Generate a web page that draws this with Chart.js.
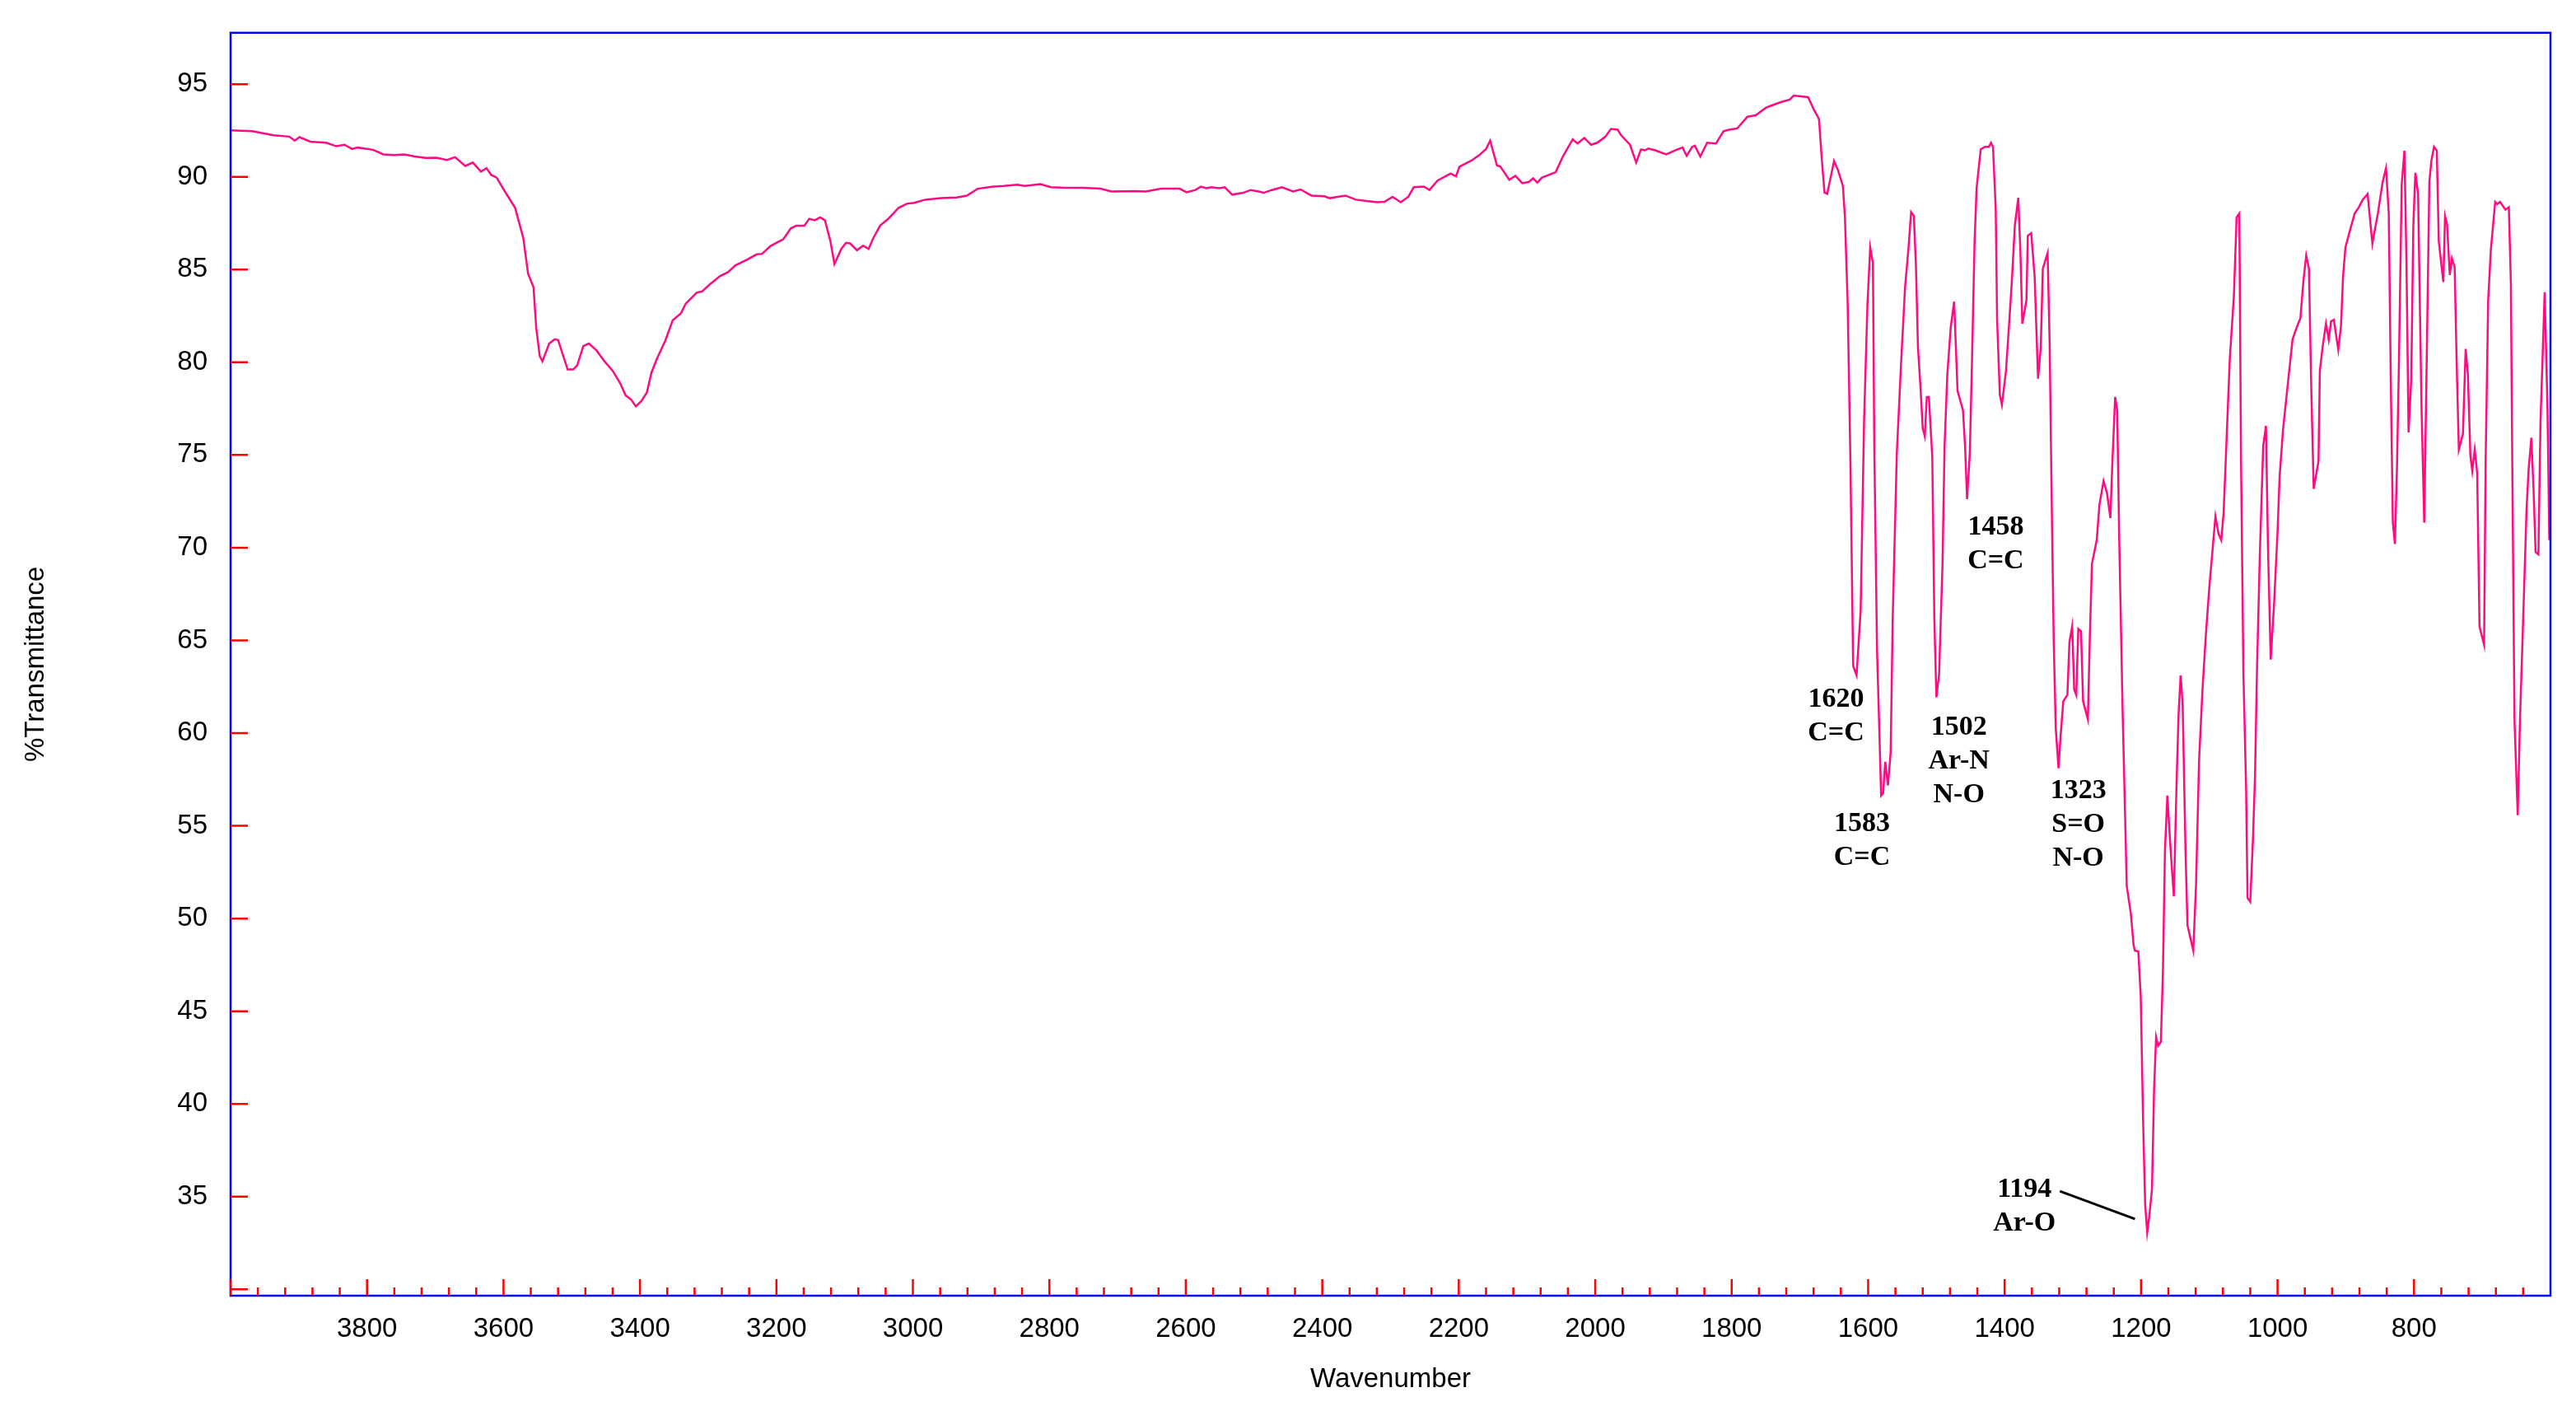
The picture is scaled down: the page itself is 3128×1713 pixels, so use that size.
<!DOCTYPE html>
<html>
<head>
<meta charset="utf-8">
<title>IR spectrum</title>
<script src="https://cdn.jsdelivr.net/npm/chart.js@4.4.1/dist/chart.umd.min.js"></script>
<style>
  body { margin: 0; background: #fff; }
  #wrap { width: 3128px; height: 1713px; }
</style>
</head>
<body>
<div id="wrap"><canvas id="irChart"></canvas></div>
<script>
// wavenumber (cm-1) from left to right
const wavenumbers = [
  4000, 3968, 3937, 3914, 3906, 3899, 3883, 3860, 3845, 3833, 3822, 3814, 3791, 3776, 3760, 3745,
  3730, 3714, 3698, 3683, 3671, 3656, 3645, 3633, 3625, 3618, 3610, 3598, 3583, 3571, 3564, 3556,
  3552, 3547, 3543, 3533, 3525, 3520, 3506, 3498, 3492, 3483, 3475, 3464, 3452, 3440, 3429, 3421,
  3413, 3406, 3398, 3390, 3383, 3375, 3363, 3352, 3340, 3333, 3317, 3309, 3298, 3283, 3271, 3260,
  3244, 3229, 3221, 3209, 3198, 3190, 3179, 3171, 3159, 3152, 3144, 3136, 3129, 3121, 3115, 3105,
  3098, 3092, 3082, 3073, 3065, 3058, 3048, 3036, 3021, 3009, 2998, 2982, 2959, 2936, 2921, 2905,
  2882, 2867, 2847, 2836, 2813, 2798, 2782, 2751, 2725, 2709, 2674, 2659, 2636, 2609, 2599, 2586,
  2578, 2570, 2563, 2551, 2543, 2532, 2516, 2505, 2493, 2486, 2474, 2459, 2443, 2432, 2416, 2397,
  2389, 2378, 2366, 2351, 2335, 2320, 2309, 2297, 2285, 2274, 2266, 2251, 2243, 2231, 2212, 2204,
  2199, 2181, 2170, 2160, 2154, 2144, 2139, 2126, 2117, 2107, 2097, 2091, 2085, 2078, 2058, 2047,
  2033, 2026, 2016, 2006, 1997, 1985, 1977, 1967, 1962, 1949, 1940, 1933, 1927, 1922, 1912, 1896,
  1881, 1872, 1866, 1858, 1854, 1846, 1836, 1823, 1812, 1804, 1792, 1777, 1765, 1750, 1743, 1727,
  1715, 1709, 1688, 1680, 1672, 1668, 1664, 1660, 1650, 1644, 1637, 1634, 1630, 1626, 1622, 1617,
  1611, 1606, 1601, 1597, 1593, 1591, 1587, 1584, 1581, 1578, 1575, 1571, 1567, 1564, 1558, 1552,
  1546, 1541, 1537, 1533, 1530, 1527, 1523, 1520, 1517, 1514, 1511, 1506, 1503, 1500, 1496, 1491,
  1488, 1484, 1479, 1474, 1469, 1461, 1458, 1455, 1451, 1448, 1444, 1441, 1435, 1429, 1423, 1420,
  1417, 1413, 1411, 1407, 1404, 1398, 1393, 1389, 1385, 1380, 1377, 1374, 1368, 1366, 1361, 1356,
  1351, 1347, 1344, 1337, 1334, 1331, 1328, 1325, 1321, 1318, 1314, 1308, 1305, 1301, 1298, 1295,
  1292, 1288, 1285, 1278, 1275, 1272, 1265, 1261, 1255, 1250, 1245, 1242, 1238, 1235, 1232, 1227,
  1221, 1215, 1211, 1209, 1204, 1200.5, 1197, 1194, 1191, 1188, 1184, 1181, 1178, 1175, 1171, 1168,
  1165, 1161.5, 1157, 1152, 1148, 1145, 1142, 1139, 1135, 1132, 1128, 1123.5, 1119.5, 1115, 1110, 1105,
  1100, 1095, 1091, 1086.5, 1082.5, 1079, 1076, 1070, 1064, 1060, 1056, 1053.5, 1050, 1046, 1044, 1040,
  1036, 1033, 1030, 1026, 1021, 1017, 1014, 1010, 1005, 1000, 997, 992, 986, 978, 972, 966.5,
  962, 958, 954, 950.5, 947, 940, 938, 934, 929, 925, 921.5, 917.5, 911, 907, 904, 900.5,
  895, 887, 881, 875, 868, 861, 853, 846, 841, 837, 834, 831, 828, 825, 822, 818,
  814, 811, 808, 804, 801, 798, 794, 789, 785, 781, 777.5, 774.6, 770.6, 766.6, 763.7, 757,
  754.5, 751.6, 747.6, 744.4, 740.4, 737.6, 734.3, 728.3, 724.3, 721, 717.4, 714.6, 711, 707.4, 704, 697.3,
  695, 691.3, 687.3, 681, 678, 674, 666, 661, 658, 656, 652.7, 648, 644.7, 640, 635, 632,
  628, 624.6, 621.8, 617.7, 614.6, 608.5, 604.4, 601.7
];

// %Transmittance at each wavenumber
const transmittance = [
  92.51, 92.46, 92.24, 92.17, 91.95, 92.14, 91.90, 91.84, 91.65, 91.73, 91.50, 91.58, 91.46, 91.21, 91.17, 91.21,
  91.10, 91.02, 91.03, 90.91, 91.06, 90.59, 90.77, 90.28, 90.47, 90.10, 89.96, 89.21, 88.33, 86.70, 84.78, 84.04,
  81.83, 80.35, 80.05, 81.01, 81.24, 81.20, 79.61, 79.61, 79.83, 80.87, 81.01, 80.65, 80.05, 79.54, 78.87, 78.21,
  77.99, 77.62, 77.91, 78.36, 79.46, 80.20, 81.16, 82.27, 82.64, 83.16, 83.75, 83.82, 84.19, 84.64, 84.86, 85.23,
  85.52, 85.82, 85.85, 86.26, 86.48, 86.63, 87.22, 87.37, 87.37, 87.74, 87.66, 87.81, 87.66, 86.55, 85.30, 86.11,
  86.44, 86.41, 86.04, 86.29, 86.11, 86.70, 87.37, 87.74, 88.33, 88.55, 88.60, 88.77, 88.85, 88.89, 88.99, 89.36,
  89.48, 89.51, 89.58, 89.51, 89.61, 89.44, 89.42, 89.41, 89.36, 89.21, 89.23, 89.21, 89.36, 89.36, 89.17, 89.29,
  89.47, 89.39, 89.44, 89.39, 89.44, 89.04, 89.14, 89.29, 89.21, 89.14, 89.29, 89.44, 89.21, 89.32, 88.99, 88.95,
  88.85, 88.92, 88.99, 88.77, 88.70, 88.63, 88.65, 88.92, 88.63, 88.92, 89.44, 89.48, 89.29, 89.80, 90.18, 90.03,
  90.55, 90.89, 91.17, 91.50, 91.95, 90.62, 90.55, 89.84, 90.06, 89.66, 89.73, 89.92, 89.69, 89.96, 90.25, 91.13,
  92.02, 91.80, 92.10, 91.73, 91.84, 92.17, 92.58, 92.54, 92.24, 91.73, 90.77, 91.48, 91.43, 91.53, 91.43, 91.21,
  91.46, 91.58, 91.13, 91.61, 91.68, 91.10, 91.84, 91.80, 92.46, 92.54, 92.61, 93.24, 93.32, 93.72, 93.83, 94.04,
  94.17, 94.38, 94.30, 93.66, 93.11, 90.99, 89.16, 89.08, 90.86, 90.35, 89.50, 87.81, 83.14, 74.65, 63.63, 63.12,
  66.60, 76.78, 83.14, 86.19, 85.35, 75.50, 64.48, 60.66, 56.63, 56.76, 58.45, 57.18, 58.96, 66.17, 75.08, 79.75,
  83.99, 86.11, 88.10, 87.89, 85.26, 80.81, 78.47, 76.44, 76.01, 78.13, 78.13, 74.87, 66.17, 61.93, 63.21, 69.14,
  75.50, 79.32, 81.87, 83.27, 78.47, 77.41, 75.50, 72.62, 75.08, 79.75, 86.53, 89.41, 91.49, 91.62, 91.62, 91.84,
  91.62, 88.23, 82.29, 78.26, 77.71, 79.53, 82.29, 84.62, 87.38, 88.87, 86.11, 82.08, 83.35, 86.83, 86.96, 84.62,
  79.12, 80.81, 85.05, 85.90, 81.02, 72.54, 64.90, 60.23, 58.11, 59.81, 61.72, 62.06, 64.90, 65.75, 62.36, 62.06,
  65.62, 65.49, 61.72, 60.74, 65.32, 69.14, 70.41, 72.32, 73.59, 72.96, 71.60, 74.65, 78.13, 77.41, 70.41, 61.08,
  51.75, 50.27, 48.57, 48.27, 48.23, 45.81, 39.02, 34.57, 33.08, 33.94, 35.42, 40.72, 43.61, 43.14, 43.35, 47.08,
  53.66, 56.63, 53.87, 51.20, 57.27, 61.08, 63.12, 61.50, 53.87, 49.63, 48.99, 48.27, 51.75, 58.54, 62.35, 65.32,
  67.87, 69.99, 71.68, 70.75, 70.41, 71.90, 74.65, 80.17, 83.56, 87.81, 88.02, 74.65, 63.21, 56.84, 51.11, 50.90,
  54.30, 57.70, 63.63, 69.56, 75.50, 76.57, 69.99, 63.97, 67.02, 70.84, 73.81, 76.35, 78.47, 81.23, 81.87, 82.38,
  84.41, 85.76, 85.05, 78.47, 73.17, 74.65, 79.53, 80.81, 82.08, 81.23, 82.21, 82.29, 80.68, 81.95, 84.62, 86.19,
  86.96, 88.02, 88.35, 88.78, 89.08, 86.40, 88.02, 89.71, 90.48, 88.02, 78.90, 71.35, 70.20, 74.23, 80.17, 89.59,
  91.41, 85.26, 76.22, 79.11, 87.38, 90.22, 89.08, 77.62, 71.35, 81.02, 89.71, 90.86, 91.62, 91.41, 86.53, 84.33,
  87.89, 87.46, 84.71, 85.60, 85.13, 80.17, 75.29, 76.14, 80.72, 79.32, 74.99, 74.14, 75.29, 74.02, 65.75, 64.77,
  74.65, 83.35, 86.11, 88.65, 88.53, 88.65, 88.23, 88.36, 84.20, 74.65, 60.66, 55.57, 60.66, 66.17, 72.11, 74.23,
  75.93, 72.96, 69.77, 69.64, 76.78, 83.78, 77.62, 70.41
];

// peak annotations: text lines, anchor of first line (wavenumber, %T)
const peakText = [['1620', 'C=C'], ['1583', 'C=C'], ['1502', 'Ar-N', 'N-O'], ['1458', 'C=C'], ['1323', 'S=O', 'N-O'], ['1194', 'Ar-O']];
const peakWn = [1647, 1609, 1467, 1413, 1292, 1371];
const peakT = [61.8, 55.1, 60.3, 71.1, 56.9, 35.4];

// leader line for the 1194 peak
const leaderWn = [1319, 1209];
const leaderT = [35.3, 33.8];

const xMin = 600, xMax = 4000;
const yMin = 29.66, yMax = 97.77;

const points = wavenumbers.map((wn, i) => ({ x: wn, y: transmittance[i] }));

// blue frame, red inward ticks and the peak labels
const spectrumDecor = {
  id: 'spectrumDecor',
  afterDraw(chart) {
    const { ctx, chartArea: a } = chart;
    const x = chart.scales.x;
    const y = chart.scales.y;
    ctx.save();

    ctx.strokeStyle = '#0000ff';
    ctx.lineWidth = 2.5;
    ctx.strokeRect(a.left, a.top, a.right - a.left, a.bottom - a.top);

    ctx.strokeStyle = '#ff0000';
    ctx.lineWidth = 2.5;
    ctx.beginPath();
    x.ticks.forEach((t) => {
      if (t.value === xMin) return;
      const px = x.getPixelForValue(t.value);
      const len = t.value % 200 === 0 ? 20 : 10;
      ctx.moveTo(px, a.bottom);
      ctx.lineTo(px, a.bottom - len);
    });
    y.ticks.forEach((t) => {
      const py = y.getPixelForValue(t.value);
      ctx.moveTo(a.left, py);
      ctx.lineTo(a.left + 21, py);
    });
    ctx.stroke();

    ctx.fillStyle = '#000';
    ctx.font = 'bold 34px "Liberation Serif", "Times New Roman", serif';
    ctx.textAlign = 'center';
    ctx.textBaseline = 'middle';
    peakText.forEach((lines, i) => {
      const px = x.getPixelForValue(peakWn[i]);
      const py = y.getPixelForValue(peakT[i]);
      lines.forEach((line, j) => ctx.fillText(line, px, py + j * 41));
    });

    ctx.strokeStyle = '#000';
    ctx.lineWidth = 3;
    ctx.beginPath();
    ctx.moveTo(x.getPixelForValue(leaderWn[0]), y.getPixelForValue(leaderT[0]));
    ctx.lineTo(x.getPixelForValue(leaderWn[1]), y.getPixelForValue(leaderT[1]));
    ctx.stroke();

    ctx.restore();
  }
};

const ctx = document.getElementById('irChart').getContext('2d');
new Chart(ctx, {
  type: 'line',
  data: {
    datasets: [{
      data: points,
      borderColor: '#ff0a80',
      borderWidth: 2.5,
      pointRadius: 0,
      tension: 0,
      fill: false,
    }],
  },
  options: {
    responsive: true,
    maintainAspectRatio: false,
    devicePixelRatio: 1,
    animation: false,
    parsing: false,
    layout: { padding: { left: 0, top: 37, right: 31, bottom: 0 } },
    plugins: {
      legend: { display: false },
      tooltip: { enabled: false },
    },
    scales: {
      x: {
        type: 'linear',
        reverse: true,
        min: xMin,
        max: xMax,
        grid: { display: false },
        border: { display: false },
        ticks: {
          stepSize: 40,
          autoSkip: false,
          maxRotation: 0,
          minRotation: 0,
          padding: 13,
          color: '#000',
          font: { family: '"Liberation Sans", Arial, sans-serif', size: 33 },
          callback: (v) => (v % 200 === 0 && v !== xMin && v !== xMax ? String(v) : ''),
        },
        title: {
          display: true,
          text: 'Wavenumber',
          color: '#000',
          font: { family: '"Liberation Sans", Arial, sans-serif', size: 33 },
          padding: { top: 0, bottom: 18 },
        },
        afterFit: (scale) => { scale.height = 140; },
      },
      y: {
        min: yMin,
        max: yMax,
        grid: { display: false },
        border: { display: false },
        ticks: {
          stepSize: 5,
          includeBounds: false,
          autoSkip: false,
          padding: 20,
          color: '#000',
          font: { family: '"Liberation Sans", Arial, sans-serif', size: 33 },
          callback: (v) => (v >= 35 ? String(v) : ''),
        },
        title: {
          display: true,
          text: '%Transmittance',
          color: '#000',
          font: { family: '"Liberation Sans", Arial, sans-serif', size: 33 },
          padding: { top: 24, bottom: 0 },
        },
        afterFit: (scale) => { scale.width = 280; },
      },
    },
  },
  plugins: [spectrumDecor],
});
</script>
</body>
</html>
